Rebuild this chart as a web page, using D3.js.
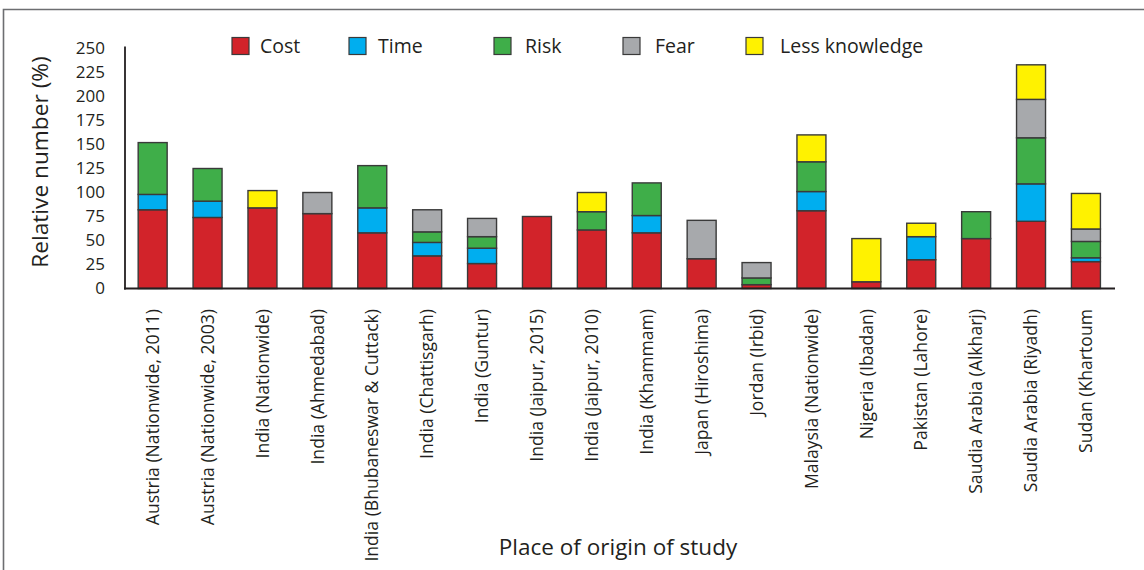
<!DOCTYPE html>
<html><head><meta charset="utf-8">
<script src="https://cdn.jsdelivr.net/npm/d3@7/dist/d3.min.js"></script>
<style>body{margin:0;background:#fff;}svg{display:block;font-family:"Open Sans",Lato,sans-serif;}</style>
</head><body><svg id="c" width="1144" height="570"></svg>
<script>
const categories = ["Austria (Nationwide, 2011)","Austria (Nationwide, 2003)","India (Nationwide)","India (Ahmedabad)","India (Bhubaneswar & Cuttack)","India (Chattisgarh)","India (Guntur)","India (Jaipur, 2015)","India (Jaipur, 2010)","India (Khammam)","Japan (Hiroshima)","Jordan (Irbid)","Malaysia (Nationwide)","Nigeria (Ibadan)","Pakistan (Lahore)","Saudia Arabia (Alkharj)","Saudia Arabia (Riyadh)","Sudan (Khartoum"];
const seriesNames = ["Cost","Time","Risk","Fear","Less knowledge"];
const cost  = [82,74,84,78,58,34,26,75,61,58,31,4,81,7,30,52,70,28];
const time  = [16,17,0,0,26,14,16,0,0,18,0,0,20,0,24,0,39,4];
const risk  = [54,34,0,0,44,11,12,0,19,34,0,7,31,0,0,28,48,17];
const fear  = [0,0,0,22,0,23,19,0,0,0,40,16,0,0,0,0,40,13];
const lessKnowledge = [0,0,18,0,0,0,0,0,20,0,0,0,28,45,14,0,36,37];
const yTicks = [0,25,50,75,100,125,150,175,200,225,250];
const colors = ["#d2232a","#00aeef","#3fae49","#a7a9ac","#fff200"];

const FONT = "'Open Sans',Lato,sans-serif";
const seriesValues = [cost,time,risk,fear,lessKnowledge];
const rows = categories.map((c,i)=>{const r={cat:c}; seriesNames.forEach((s,j)=>r[s]=seriesValues[j][i]); return r;});
const stacked = d3.stack().keys(seriesNames)(rows);

const svg = d3.select("#c");
svg.append("path").attr("d","M3.5,570 L3.5,9.5 L1144,9.5").attr("fill","none").attr("stroke","#6d6e71").attr("stroke-width",1.6);

const x = d3.scaleBand().domain(categories).range([125,1113.6]).paddingInner(0.472).paddingOuter(0.24);
const y = d3.scaleLinear().domain([0,250]).range([288.5,48.5]);

const g = svg.append("g");
stacked.forEach((layer,j)=>{
  g.selectAll(null).data(layer.filter(d=>d[1]-d[0]>0)).enter().append("rect")
    .attr("x",d=>x(d.data.cat)).attr("width",x.bandwidth())
    .attr("y",d=>y(d[1])).attr("height",d=>y(d[0])-y(d[1]))
    .attr("fill",colors[j]).attr("stroke","#3a3a3a").attr("stroke-width",1.4);
});

const yAxis = d3.axisLeft(y).tickValues(yTicks).tickSize(0).tickPadding(20);
const ya = svg.append("g").attr("transform","translate(125,0)").call(yAxis).attr("font-family",FONT);
ya.select(".domain").remove();
ya.selectAll("text").attr("font-size",17).attr("fill","#231f20");
svg.append("line").attr("x1",125).attr("x2",125).attr("y1",46.5).attr("y2",289.5).attr("stroke","#231f20").attr("stroke-width",1.8);
svg.append("line").attr("x1",124).attr("x2",1115).attr("y1",288.5).attr("y2",288.5).attr("stroke","#231f20").attr("stroke-width",1.8);

const xAxis = d3.axisBottom(x).tickSize(0).tickPadding(0);
const xa = svg.append("g").attr("transform","translate(0,288)").call(xAxis).attr("font-family",FONT);
xa.select(".domain").remove();
xa.selectAll("text").attr("font-size",17.6).attr("fill","#231f20")
  .attr("text-anchor","end").attr("dy","0.35em")
  .attr("transform","translate(0,21) rotate(-90)").attr("x",0).attr("y",0);

svg.append("text").attr("transform","translate(48,162) rotate(-90)").attr("text-anchor","middle")
  .attr("font-size",22.7).attr("fill","#231f20").text("Relative number (%)");
svg.append("text").attr("x",618).attr("y",555).attr("text-anchor","middle")
  .attr("font-size",22.5).attr("fill","#231f20").text("Place of origin of study");

const legX = [232,349,494,623,746];
const legTX = [260,378,525,655,780];
const lg = svg.append("g");
seriesNames.forEach((s,j)=>{
  lg.append("rect").attr("x",legX[j]).attr("y",37.5).attr("width",17).attr("height",17)
    .attr("fill",colors[j]).attr("stroke","#3a3a3a").attr("stroke-width",1.2);
  lg.append("text").attr("x",legTX[j]).attr("y",53).attr("font-size",19.5).attr("fill","#231f20").text(s);
});
</script></body></html>
